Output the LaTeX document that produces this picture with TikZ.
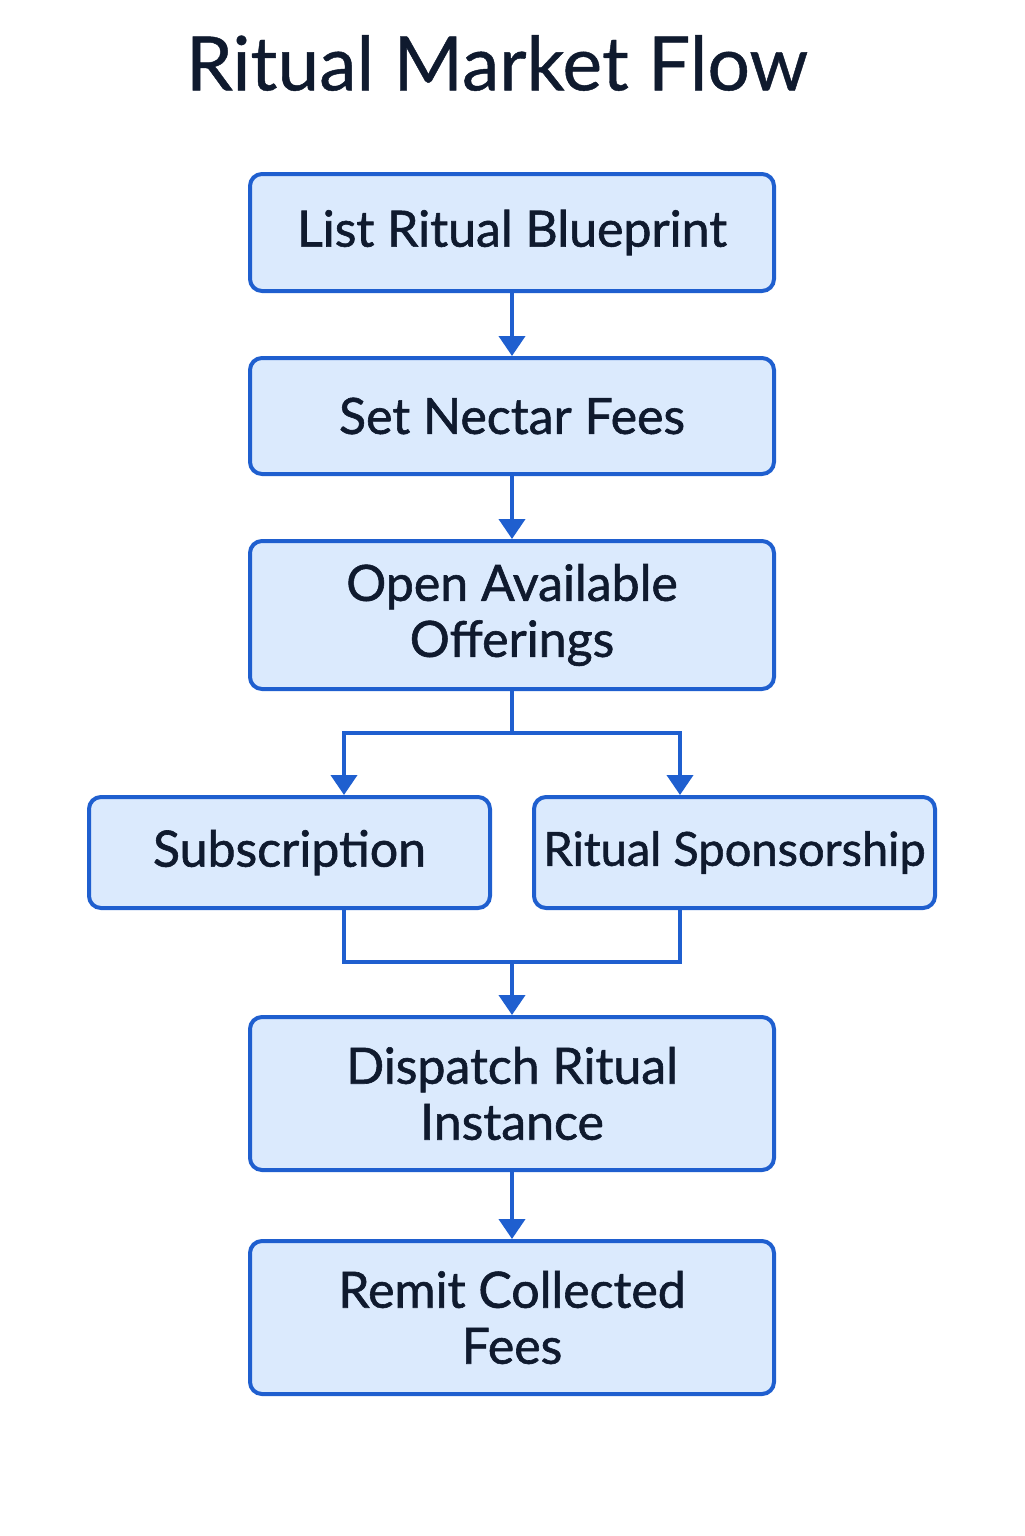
\documentclass[tikz,border=0pt]{standalone}
\usepackage{fontspec}
\setmainfont{Lato}[FakeBold=1.2]
\newfontfamily\titlefont{Lato}[FakeBold=0.6]
\usetikzlibrary{arrows.meta}
\definecolor{bord}{HTML}{1F5FCF}
\definecolor{boxfill}{HTML}{DBEAFD}
\definecolor{ink}{HTML}{0F1A2E}
\tikzset{
  stepbox/.style={draw=bord, fill=boxfill, line width=2pt, rounded corners=6pt,
    minimum width=262pt, text=ink, align=center, inner sep=0pt,
    font=\fontsize{25}{28}\selectfont},
  smallbox/.style={stepbox, minimum width=200.5pt, minimum height=55.5pt},
  conn/.style={draw=bord, line width=2pt},
  arr/.style={conn, -{Triangle[width=13pt,length=10pt]}}
}
\begin{document}
\begin{tikzpicture}[x=0.5pt,y=-0.5pt]
\useasboundingbox (0,0) rectangle (1024,1536);
\node[text=ink, font=\titlefont\fontsize{37.5}{40}\selectfont] (title) at (497,63) {Ritual Market Flow};
\node[stepbox, minimum height=58.5pt] (b1) at (512,232.5) {List Ritual Blueprint};
\node[stepbox, minimum height=58pt] (b2) at (512,416) {Set Nectar Fees};
\node[stepbox, minimum height=74pt] (b3) at (512,615) {Open Available\\Offerings};
\node[smallbox] (sub) at (289.5,852.5) {Subscription};
\node[smallbox, font=\fontsize{23.5}{28}\selectfont] (rs) at (734.5,852.5) {Ritual Sponsorship};
\node[stepbox, minimum height=76.5pt] (b5) at (512,1093.5) {Dispatch Ritual\\Instance};
\node[stepbox, minimum height=76.5pt] (b6) at (512,1317.5) {Remit Collected\\Fees};
\coordinate (split) at (512,733);
\coordinate (sL) at (344,733);
\coordinate (sR) at (680,733);
\coordinate (mL) at (344,962);
\coordinate (mR) at (680,962);
\coordinate (merge) at (512,962);
\draw[arr] (b1) -- (b2);
\draw[arr] (b2) -- (b3);
\draw[conn] (b3.south) -- (split);
\draw[arr] (split) -- (sL) -- (sL |- sub.north);
\draw[arr] (split) -- (sR) -- (sR |- rs.north);
\draw[conn] (sub.south -| mL) -- (mL) -- (mR) -- (rs.south -| mR);
\draw[arr] (merge) -- (b5.north);
\draw[arr] (b5) -- (b6);
\end{tikzpicture}
\end{document}
